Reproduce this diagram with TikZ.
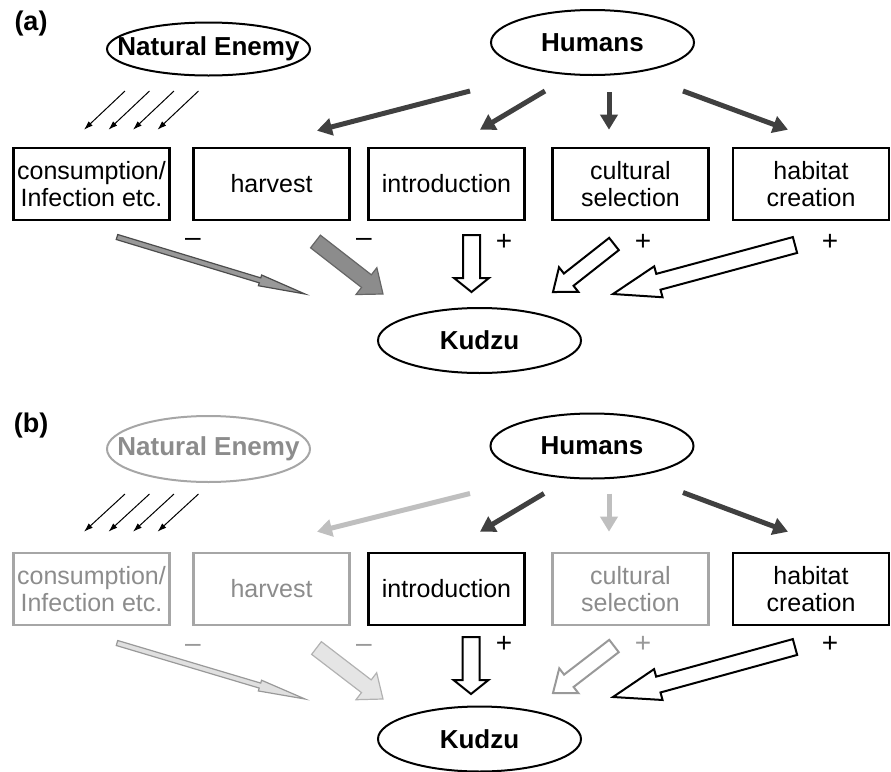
\documentclass[tikz,border=0pt]{standalone}
\usepackage{fontspec}
\setmainfont{Liberation Sans}
\usetikzlibrary{shapes.geometric,arrows.meta,calc}

% block arrow: style, start, tip, shaft half width, head half width, head length
\newcommand{\blockarrow}[6]{%
  \coordinate (#2-h) at ($(#3)!#6!(#2)$);
  \draw[#1] ($(#2)!#4!90:(#3)$) -- ($(#2-h)!#4!90:(#3)$) -- ($(#2-h)!#5!90:(#3)$)
    -- (#3) -- ($(#2-h)!#5!-90:(#3)$) -- ($(#2-h)!#4!-90:(#3)$) -- ($(#2)!#4!-90:(#3)$) -- cycle;
}

\begin{document}
\begin{tikzpicture}[x=0.5pt,y=-0.5pt,
  actor/.style={ellipse,draw,line width=1pt,inner sep=0pt,minimum width=101.5pt,
                minimum height=32.5pt,font=\fontsize{13}{15}\selectfont\bfseries},
  factor/.style={draw,line width=1.3pt,minimum width=78pt,minimum height=36pt,
                 inner sep=0pt,align=center,font=\fontsize{12.5}{13.5}\selectfont},
  faded/.style={draw=black!35,text=black!45},
  humlink/.style={draw=black!75,line width=2.5pt,-{Triangle[length=7.5pt,width=8.5pt]}},
  humfaded/.style={humlink,draw=black!25},
  enemylink/.style={line width=0.5pt,-{Latex[length=4.5pt,width=3pt]}},
  sign/.style={inner sep=0pt,font=\fontsize{14}{16}\selectfont},
  panel/.style={inner sep=0pt,font=\fontsize{13.5}{15}\selectfont\bfseries},
  effect/.style={draw=black,line width=1pt,fill=white},
]
\useasboundingbox (0,0) rectangle (891,772);

% ---------------- panel (a)
\node[panel] (aLab) at (31,24) {(a)};
\node[actor,minimum height=26.5pt] (aNE) at (208.5,49) {\makebox[0pt]{Natural Enemy}};
\node[actor] (aHum) at (592.5,42.5) {Humans};

\node[factor] (aCons) at (91.5,184) {consumption/\\Infection etc.};
\node[factor] (aHarv) at (271.5,184) {harvest};
\node[factor] (aIntr) at (446.5,184) {introduction};
\node[factor] (aCult) at (630.5,184) {cultural\\selection};
\node[factor] (aHab) at (811,184) {habitat\\creation};

\node[actor] (aKud) at (479.5,340.5) {Kudzu};

\foreach \i in {0,...,3}
  \draw[enemylink] ($(aNE.south)+({-83.5+24.5*\i},14.5)$) -- ($(aCons.north)+({-7.5+24.5*\i},-17)$);

\draw[humlink] ($(aHum.south)+(-122.5,15)$) -- ($(aHarv.north)+(45.5,-16)$);
\draw[humlink] ($(aHum.south)+(-47.5,15)$) -- ($(aIntr.north)+(33.5,-17)$);
\draw[humlink] ($(aHum.south)+(16.5,16)$) -- ($(aCult.north)+(-21.5,-17)$);
\draw[humlink] ($(aHum.south)+(90.5,15)$) -- ($(aHab.north)+(-23,-17)$);

\coordinate (a1s) at (117,237);   \coordinate (a1t) at (305,294);
\coordinate (a2s) at (315.5,241.5); \coordinate (a2t) at (383,294);
\coordinate (a3s) at (471.5,235); \coordinate (a3t) at (471.5,292);
\coordinate (a4s) at (614,244);   \coordinate (a4t) at (553,292);
\coordinate (a5s) at (795,245);   \coordinate (a5t) at (613,294);
\blockarrow{draw=black!70,line width=0.6pt,fill=black!40}{a1s}{a1t}{1.3pt}{2.8pt}{23.5pt}
\blockarrow{draw=black!60,line width=0.6pt,fill=black!45}{a2s}{a2t}{4pt}{8.5pt}{10.5pt}
\blockarrow{effect}{a3s}{a3t}{4.25pt}{8.75pt}{7pt}
\blockarrow{effect}{a4s}{a4t}{3.9pt}{7.85pt}{10pt}
\blockarrow{effect}{a5s}{a5t}{4.1pt}{8pt}{23.5pt}

\node[sign] (aS1) at (193,242) {\textendash};
\node[sign] (aS2) at (364,242) {\textendash};
\node[sign] (aS3) at (504,242) {+};
\node[sign] (aS4) at (643,242) {+};
\node[sign] (aS5) at (830,242) {+};

% ---------------- panel (b)
\node[panel] (bLab) at (31,426) {(b)};
\node[actor,faded,minimum height=33pt] (bNE) at (208.5,449) {\makebox[0pt]{Natural Enemy}};
\node[actor] (bHum) at (592,446) {Humans};

\node[factor,faded] (bCons) at (91.5,589) {consumption/\\Infection etc.};
\node[factor,faded] (bHarv) at (271.5,589) {harvest};
\node[factor] (bIntr) at (446.5,589) {introduction};
\node[factor,faded] (bCult) at (630.5,589) {cultural\\selection};
\node[factor] (bHab) at (811,589) {habitat\\creation};

\node[actor] (bKud) at (479.5,739) {Kudzu};

\foreach \i in {0,...,3}
  \draw[enemylink] ($(bNE.south)+({-83.5+24.5*\i},11)$) -- ($(bCons.north)+({-7.5+24.5*\i},-20)$);

\draw[humfaded] ($(bHum.south)+(-122,14)$) -- ($(bHarv.north)+(45.5,-20)$);
\draw[humlink] ($(bHum.south)+(-48,14)$) -- ($(bIntr.north)+(33.5,-20)$);
\draw[humfaded] ($(bHum.south)+(17,14)$) -- ($(bCult.north)+(-21.5,-20)$);
\draw[humlink] ($(bHum.south)+(91,13)$) -- ($(bHab.north)+(-23,-20)$);

\coordinate (b1s) at (117,643);   \coordinate (b1t) at (305,699);
\coordinate (b2s) at (316.5,648); \coordinate (b2t) at (383,699);
\coordinate (b3s) at (471,637);   \coordinate (b3t) at (471,694);
\coordinate (b4s) at (614,646);   \coordinate (b4t) at (553,693);
\coordinate (b5s) at (795,647);   \coordinate (b5t) at (613,697);
\blockarrow{draw=black!40,line width=0.6pt,fill=black!12}{b1s}{b1t}{1.3pt}{2.8pt}{23.5pt}
\blockarrow{draw=black!30,line width=0.6pt,fill=black!10}{b2s}{b2t}{4pt}{8.5pt}{10.5pt}
\blockarrow{effect}{b3s}{b3t}{4.25pt}{8.75pt}{7pt}
\blockarrow{effect,draw=black!40}{b4s}{b4t}{3.9pt}{7.85pt}{10pt}
\blockarrow{effect}{b5s}{b5t}{4.1pt}{8pt}{23.5pt}

\node[sign,text=black!40] (bS1) at (193,648) {\textendash};
\node[sign,text=black!40] (bS2) at (364,648) {\textendash};
\node[sign] (bS3) at (504,644) {+};
\node[sign,text=black!40] (bS4) at (643,644) {+};
\node[sign] (bS5) at (830,644) {+};
\end{tikzpicture}
\end{document}
